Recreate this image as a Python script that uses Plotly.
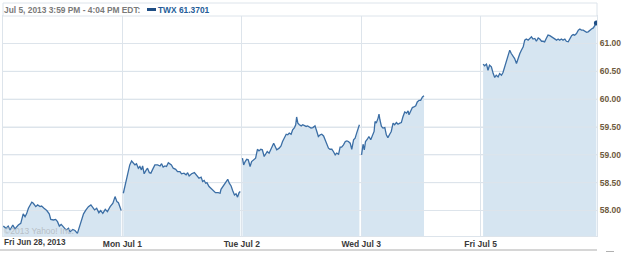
import plotly.graph_objects as go

# ---------------- data ----------------
day_labels = ["Fri Jun 28, 2013", "Mon Jul 1", "Tue Jul 2", "Wed Jul 3", "Fri Jul 5"]
session_minutes = 390          # 9:30 - 16:00
y_ticks = [58.0, 58.5, 59.0, 59.5, 60.0, 60.5, 61.0]
symbol = "TWX"
header_time = "Jul 5, 2013 3:59 PM - 4:04 PM EDT:"

# minutes after the open, and price
jun28_min = [1, 10, 17, 23, 32, 39, 50, 58, 66, 72, 77, 83, 94, 99, 107, 113, 121, 126, 134, 143,
             151, 156, 165, 172, 178, 184, 190, 197, 206, 214, 219, 228, 235, 243, 250, 257, 263, 271, 279, 287,
             293, 299, 306, 313, 319, 326, 334, 341, 350, 359, 366, 372, 377, 383, 386]
jun28_px = [57.72, 57.68, 57.72, 57.65, 57.74, 57.67, 57.74, 57.77, 57.94, 57.89, 57.94, 58.04, 58.15, 58.13, 58.07, 58.10, 58.07, 58.08, 58.04, 58.00,
            57.94, 57.84, 57.83, 57.84, 57.80, 57.72, 57.75, 57.70, 57.65, 57.68, 57.62, 57.66, 57.64, 57.59, 57.71, 57.83, 57.94, 58.01, 58.07, 58.10,
            58.06, 58.01, 58.04, 57.96, 58.00, 57.95, 58.02, 57.98, 58.07, 58.13, 58.25, 58.16, 58.14, 58.04, 58.00]

jul1_min = [3, 10, 17, 24, 30, 35, 41, 46, 52, 57, 62, 66, 71, 77, 82, 88, 93, 98, 106, 115,
            123, 128, 133, 139, 144, 150, 155, 160, 166, 174, 180, 188, 193, 201, 208, 213, 218, 226, 235, 242,
            250, 257, 262, 267, 272, 276, 283, 289, 297, 304, 313, 319, 322, 330, 337, 344, 349, 355, 360, 366,
            371, 376, 381, 385]
jul1_px = [58.31, 58.49, 58.67, 58.82, 58.89, 58.86, 58.82, 58.84, 58.76, 58.79, 58.73, 58.80, 58.66, 58.72, 58.76, 58.68, 58.67, 58.73, 58.82, 58.82,
           58.80, 58.84, 58.78, 58.80, 58.79, 58.86, 58.84, 58.82, 58.76, 58.74, 58.70, 58.70, 58.66, 58.67, 58.64, 58.68, 58.62, 58.66, 58.68, 58.64,
           58.58, 58.60, 58.52, 58.54, 58.49, 58.50, 58.43, 58.40, 58.36, 58.32, 58.32, 58.31, 58.38, 58.44, 58.49, 58.56, 58.49, 58.44, 58.36, 58.28,
           58.30, 58.24, 58.32, 58.34]

jul2_min = [2, 6, 11, 16, 21, 27, 32, 38, 45, 51, 56, 62, 67, 73, 78, 83, 89, 94, 100, 104,
            109, 114, 122, 128, 133, 139, 145, 150, 155, 161, 166, 172, 176, 179, 183, 188, 194, 199, 204, 210,
            215, 221, 226, 232, 239, 245, 250, 256, 261, 267, 272, 277, 283, 288, 294, 299, 305, 310, 316, 321,
            326, 332, 338, 343, 348, 354, 359, 365, 370, 375, 381, 384]
jul2_px = [58.94, 58.82, 58.88, 58.92, 58.91, 58.79, 58.88, 58.91, 58.94, 59.10, 59.07, 59.10, 59.09, 58.97, 59.03, 59.06, 59.03, 59.10, 59.16, 59.21,
           59.15, 59.09, 59.12, 59.16, 59.24, 59.30, 59.37, 59.36, 59.39, 59.37, 59.45, 59.49, 59.54, 59.68, 59.57, 59.54, 59.52, 59.54, 59.52, 59.51,
           59.52, 59.49, 59.48, 59.49, 59.52, 59.42, 59.33, 59.36, 59.37, 59.34, 59.27, 59.21, 59.12, 59.10, 59.10, 59.06, 59.00, 59.03, 59.01, 59.14,
           59.14, 59.18, 59.24, 59.25, 59.24, 59.21, 59.10, 59.27, 59.30, 59.39, 59.51, 59.54]

jul3_min = [1, 6, 10, 14, 20, 25, 31, 36, 42, 45, 49, 55, 58, 61, 66, 71, 77, 82, 87, 93,
            98, 104, 109, 115, 120, 126, 131, 136, 142, 148, 153, 156, 162, 167, 172, 178, 183, 189, 194, 200, 205]
jul3_px = [59.00, 59.19, 59.09, 59.24, 59.28, 59.33, 59.27, 59.33, 59.42, 59.60, 59.57, 59.66, 59.73, 59.63, 59.51, 59.48, 59.49, 59.36, 59.31, 59.37,
           59.42, 59.57, 59.54, 59.58, 59.55, 59.57, 59.58, 59.68, 59.77, 59.75, 59.79, 59.72, 59.81, 59.85, 59.86, 59.88, 59.95, 59.98, 59.98, 60.04, 60.06]

jul5_min = [8, 13, 19, 24, 29, 35, 41, 46, 51, 57, 62, 68, 73, 79, 84, 90, 95, 100, 106, 111,
            117, 122, 128, 133, 139, 144, 149, 155, 160, 166, 171, 177, 182, 188, 193, 199, 204, 209, 215, 220,
            226, 231, 237, 242, 248, 253, 258, 264, 269, 275, 280, 286, 291, 297, 302, 307, 313, 319, 324, 329,
            335, 340, 346, 351, 356, 362, 368, 373, 378]
jul5_px = [60.63, 60.60, 60.63, 60.52, 60.61, 60.58, 60.46, 60.39, 60.43, 60.40, 60.46, 60.43, 60.48, 60.58, 60.70, 60.79, 60.88, 60.82, 60.76, 60.73,
           60.64, 60.73, 60.82, 60.88, 60.94, 61.06, 61.08, 61.06, 61.09, 61.12, 61.08, 61.09, 61.04, 61.10, 61.08, 61.04, 61.04, 61.03, 61.10, 61.15,
           61.14, 61.12, 61.09, 61.08, 61.06, 61.08, 61.06, 61.08, 61.06, 61.08, 61.04, 61.03, 61.08, 61.14, 61.16, 61.15, 61.18, 61.24, 61.26, 61.24,
           61.24, 61.22, 61.20, 61.21, 61.24, 61.26, 61.28, 61.33, 61.3701]

days_min = [jun28_min, jul1_min, jul2_min, jul3_min, jul5_min]
days_px = [jun28_px, jul1_px, jul2_px, jul3_px, jul5_px]

# ---------------- style ----------------
W, H = 625, 253
L, R, T, B = 3, 597, 16, 236        # plot area in pixels
LINE = "#3b6ea5"
FILL = "#d6e5f1"
GRID = "#dde4eb"
FONT = "Liberation Sans, Arial, sans-serif"
X_END = 4 * session_minutes + 380


def pxx(p):
    return (p - L) / (R - L)


def pxy(p):
    return (B - p) / (B - T)


fig = go.Figure()

# filled areas, one per session
for d, (mins, prices) in enumerate(zip(days_min, days_px)):
    xs = [d * session_minutes + m for m in mins]
    fig.add_trace(go.Scatter(x=xs, y=prices, mode="lines", line=dict(width=0, color=FILL),
                             fill="tozeroy", fillcolor=FILL, hoverinfo="skip", showlegend=False))

# horizontal grid drawn over the fill
gx, gy = [], []
for v in y_ticks:
    gx += [0, X_END, None]
    gy += [v, v, None]
fig.add_trace(go.Scatter(x=gx, y=gy, mode="lines", line=dict(width=1, color=GRID),
                         hoverinfo="skip", showlegend=False))

# price lines
for d, (mins, prices) in enumerate(zip(days_min, days_px)):
    xs = [d * session_minutes + m for m in mins]
    fig.add_trace(go.Scatter(x=xs, y=prices, mode="lines", line=dict(width=1.3, color=LINE),
                             hoverinfo="skip", showlegend=False))

# last point marker
last_x = 4 * session_minutes + jul5_min[-1]
last_y = jul5_px[-1]
fig.add_trace(go.Scatter(x=[last_x], y=[last_y], mode="markers",
                         marker=dict(size=5, color="#1f4e85"), hoverinfo="skip", showlegend=False))

fig.update_layout(
    width=W, height=H,
    margin=dict(l=L, r=W - R, t=T, b=H - B),
    paper_bgcolor="white", plot_bgcolor="white",
    showlegend=False,
    xaxis=dict(
        range=[0, X_END],
        tickmode="array",
        tickvals=[d * session_minutes for d in range(len(day_labels))],
        ticktext=[""] + day_labels[1:],
        showgrid=True, gridcolor=GRID, gridwidth=1,
        zeroline=False, showline=True, linecolor=GRID, mirror=True,
        ticks="", tickfont=dict(family=FONT, size=8.5, color="#3a3a3a", weight="bold"),
    ),
    yaxis=dict(
        range=[57.542, 61.494],
        side="right",
        tickmode="array",
        tickvals=y_ticks,
        ticktext=[f"{v:.2f}" for v in y_ticks],
        showgrid=True, gridcolor=GRID, gridwidth=1,
        zeroline=False, showline=True, linecolor=GRID, mirror=True,
        ticks="", tickfont=dict(family=FONT, size=8.5, color="#6e5a3e", weight="bold"),
    ),
)

shapes = [
    # header box
    dict(type="rect", xref="paper", yref="paper", x0=pxx(3), x1=pxx(597), y0=pxy(16), y1=pxy(3),
         line=dict(color=GRID, width=1), fillcolor="white", layer="above"),
    # legend swatch
    dict(type="rect", xref="paper", yref="paper", x0=pxx(147), x1=pxx(156), y0=pxy(11), y1=pxy(8),
         line=dict(width=0), fillcolor="#1f4e85", layer="above"),
    # bottom rule
    dict(type="line", xref="paper", yref="paper", x0=pxx(0), x1=pxx(597), y0=pxy(250), y1=pxy(250),
         line=dict(color="#d6d6d6", width=2), layer="above"),
    dict(type="line", xref="paper", yref="paper", x0=pxx(606), x1=pxx(614), y0=pxy(251.5), y1=pxy(251.5),
         line=dict(color="#b0b0b0", width=1), layer="above"),
]
fig.update_layout(shapes=shapes)

annos = [
    dict(text=header_time, x=pxx(2), y=pxy(9.5), xanchor="left", yanchor="middle",
         font=dict(family=FONT, size=8.4, color="#7a7a7a", weight="bold")),
    dict(text=f"{symbol} {last_y:.4f}", x=pxx(156), y=pxy(9.5), xanchor="left", yanchor="middle",
         font=dict(family=FONT, size=8.4, color="#245d99", weight="bold")),
    dict(text=day_labels[0], x=pxx(2), y=pxy(243), xanchor="left", yanchor="middle",
         font=dict(family=FONT, size=8.2, color="#3a3a3a", weight="bold")),
    dict(text="\u00a92013 Yahoo! Inc.", x=pxx(2), y=pxy(231), xanchor="left", yanchor="middle",
         font=dict(family=FONT, size=8.5, color="#b8bfc6")),
]
for a in annos:
    a.update(xref="paper", yref="paper", showarrow=False)
fig.update_layout(annotations=annos)

fig.write_html("out.html")
